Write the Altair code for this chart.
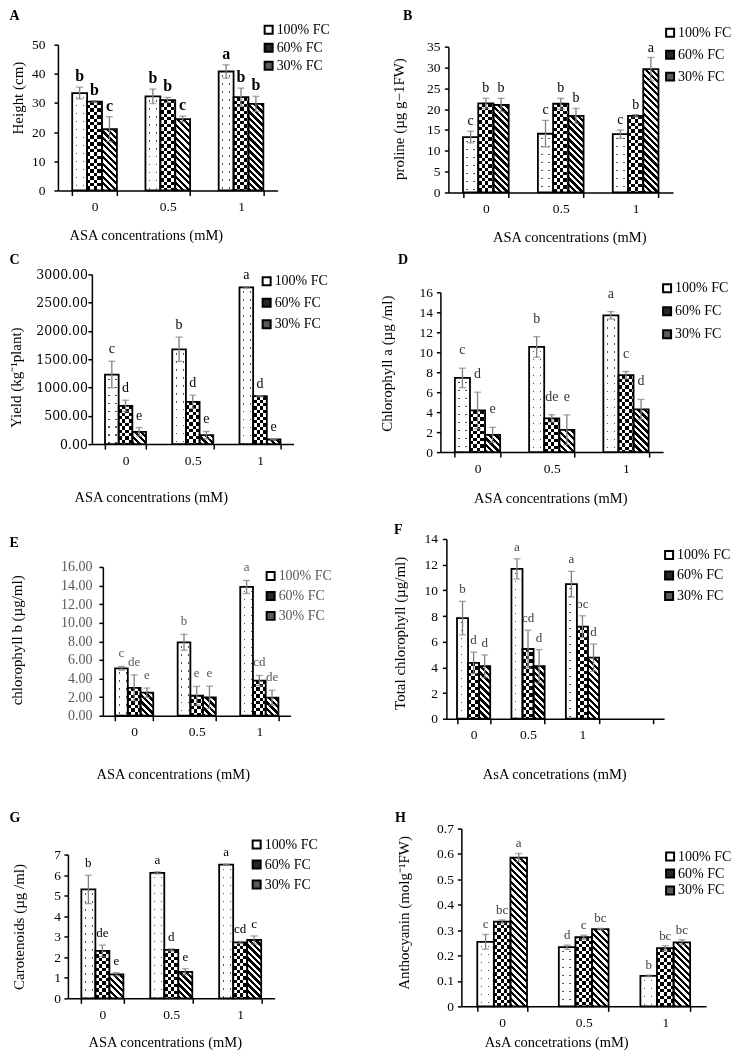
import math
import altair as alt

SERIES = ["100% FC", "60% FC", "30% FC"]
CONC = ["0", "0.5", "1"]

# values ordered by ASA concentration (0, 0.5, 1); inside each: 100%, 60%, 30% FC
height_mean = [33.4, 30.5, 21.0, 32.3, 31.0, 24.5, 40.8, 32.0, 29.7]
height_err = [2.0, 0.3, 4.3, 2.5, 0.9, 1.0, 2.3, 3.1, 2.6]
height_let = ["b", "b", "c", "b", "b", "c", "a", "b", "b"]

proline_mean = [13.3, 21.4, 21.0, 14.1, 21.3, 18.4, 14.0, 18.4, 29.6]
proline_err = [1.4, 1.2, 1.6, 3.2, 1.3, 1.8, 1.0, 0.3, 2.8]
proline_let = ["c", "b", "b", "c", "b", "b", "c", "b", "a"]

yield_mean = [1229, 676, 218, 1676, 747, 159, 2770, 847, 82]
yield_err = [235, 100, 75, 215, 118, 65, 12, 8, 6]
yield_let = ["c", "d", "e", "b", "d", "e", "a", "d", "e"]

chla_mean = [7.43, 4.17, 1.73, 10.53, 3.37, 2.23, 13.7, 7.7, 4.27]
chla_err = [0.97, 1.83, 0.75, 1.03, 0.37, 1.5, 0.37, 0.37, 1.0]
chla_let = ["c", "d", "e", "b", "de", "e", "a", "c", "d"]

chlb_mean = [5.1, 3.0, 2.48, 7.9, 2.15, 1.98, 13.85, 3.78, 1.94]
chlb_err = [0.2, 1.4, 0.5, 0.85, 1.0, 1.2, 0.7, 0.55, 0.8]
chlb_let = ["c", "de", "e", "b", "e", "e", "a", "cd", "de"]

total_mean = [7.84, 4.35, 4.09, 11.67, 5.43, 4.09, 10.48, 7.17, 4.76]
total_err = [1.3, 0.84, 0.88, 0.79, 1.46, 1.3, 1.0, 0.85, 1.06]
total_let = ["b", "d", "d", "a", "cd", "d", "a", "bc", "d"]

carot_mean = [5.3, 2.31, 1.17, 6.11, 2.36, 1.29, 6.51, 2.72, 2.84]
carot_err = [0.69, 0.28, 0.08, 0.05, 0.05, 0.15, 0.02, 0.05, 0.2]
carot_let = ["b", "de", "e", "a", "d", "e", "a", "cd", "c"]

antho_mean = [0.254, 0.334, 0.586, 0.233, 0.272, 0.304, 0.12, 0.229, 0.252]
antho_err = [0.029, 0.006, 0.016, 0.008, 0.008, 0.003, 0.003, 0.01, 0.01]
antho_let = ["c", "bc", "a", "d", "c", "bc", "b", "bc", "bc"]

X1 = "ASA concentrations (mM)"
X2 = "AsA concetrations (mM)"
SERIF = "Liberation Serif"

# grid cells (page coordinates): column lefts / row tops and sizes
COL_LEFT = [8, 371]
COL_W = [363, 420]
ROW_TOP = [8, 250, 525, 800]
ROW_H = [242, 275, 275, 250]
PAGE_RIGHT = 734  # right edge of the figure on the page

PANELS = [
    dict(letter="A", mean=height_mean, err=height_err, lets=height_let, left=57, top=44, w=220, h=146,
         ymax=50, ystep=10, fmt="d", ytitle="Height (cm)", xtitle=X1, yt=(17, 97), xt=(145, 235),
         leg=(265, 29, 17), ttl=(8, 8), ypad=9, lsize=16, lweight="bold", lcolor="black", gap=6,
         tcolor="black", tfont=SERIF, tsize=13.5),
    dict(letter="B", mean=proline_mean, err=proline_err, lets=proline_let, left=448, top=46, w=225, h=146,
         ymax=35, ystep=5, fmt="d", ytitle="proline (µg g−1FW)", xtitle=X1, yt=(398, 118), xt=(569, 237),
         leg=(667, 32, 21), ttl=(402, 8), ypad=4.5, lsize=14, lweight="normal", lcolor="black", gap=6,
         tcolor="black", tfont=SERIF, tsize=13.5),
    dict(letter="C", mean=yield_mean, err=yield_err, lets=yield_let, left=91, top=274, w=202, h=170,
         ymax=3000, ystep=500, fmt=".2f", ytitle="Yield (kg⁻¹plant)", xtitle=X1, yt=(15, 377), xt=(150, 497),
         leg=(263, 281, 20.5), ttl=(8, 252), ypad=0.5, lsize=14, lweight="normal", lcolor="black", gap=8,
         tcolor="black", tfont="DejaVu Serif", tsize=12.5),
    dict(letter="D", mean=chla_mean, err=chla_err, lets=chla_let, left=440, top=292, w=223, h=160,
         ymax=16, ystep=2, fmt="d", ytitle="Chlorophyll a (µg /ml)", xtitle=X1, yt=(386, 363), xt=(550, 498),
         leg=(664, 288, 22), ttl=(397, 252), ypad=4, lsize=14, lweight="normal", lcolor="#333333", gap=14,
         tcolor="black", tfont=SERIF, tsize=13.5),
    dict(letter="E", mean=chlb_mean, err=chlb_err, lets=chlb_let, left=102, top=567, w=188, h=149,
         ymax=16, ystep=2, fmt=".2f", ytitle="chlorophyll b (µg/ml)", xtitle=X1, yt=(16, 640), xt=(172, 775),
         leg=(267, 576, 19), ttl=(8, 536), ypad=7, lsize=13, lweight="normal", lcolor="#595959", gap=9,
         tcolor="#595959", tfont=SERIF, tsize=14),
    dict(letter="F", mean=total_mean, err=total_err, lets=total_let, left=446, top=539, w=218, h=180,
         ymax=14, ystep=2, fmt="d", ytitle="Total chlorophyll (µg/ml)", xtitle=X2, yt=(399, 633), xt=(554, 775),
         leg=(666, 555, 19.5), ttl=(393, 523), ypad=5, lsize=13, lweight="normal", lcolor="#404040", gap=8,
         tcolor="black", tfont=SERIF, tsize=13.5, extra=[" "]),
    dict(letter="G", mean=carot_mean, err=carot_err, lets=carot_let, left=67, top=855, w=207, h=144,
         ymax=7, ystep=1, fmt="d", ytitle="Carotenoids (µg /ml)", xtitle=X1, yt=(18, 927), xt=(164, 1043),
         leg=(253, 845, 19), ttl=(8, 811), ypad=3.5, lsize=13, lweight="normal", lcolor="black", gap=8,
         tcolor="black", tfont=SERIF, tsize=13.5),
    dict(letter="H", mean=antho_mean, err=antho_err, lets=antho_let, left=461, top=829, w=245, h=178,
         ymax=0.7, ystep=0.1, fmt=None, ytitle="Anthocyanin (molg⁻¹FW)", xtitle=X2, yt=(403, 913), xt=(556, 1043),
         leg=(667, 857, 16), ttl=(394, 811), ypad=4, lsize=13, lweight="normal", lcolor="#404040", gap=6,
         tcolor="black", tfont=SERIF, tsize=13.5),
]


def stripe_stops(L, period, on_len, c_on, c_off, phase=0.0):
    L = max(L, 0.5)
    x = phase - period * math.ceil(phase / period)
    segs = []
    while x < L:
        segs.append((x, x + on_len))
        x += period
    stops, cur = [], 0.0
    for a, b in segs:
        a2, b2 = max(a, 0.0), min(b, L)
        if b2 <= 0 or a2 >= L:
            continue
        if a2 > cur:
            stops += [(cur, c_off), (a2, c_off)]
        stops += [(a2, c_on), (b2, c_on)]
        cur = b2
    if cur < L:
        stops += [(cur, c_off), (L, c_off)]
    return [{"offset": round(o / L, 5), "color": c} for o, c in stops]


def grad_down(stops):
    return {"gradient": "linear", "x1": 0, "y1": 0, "x2": 0.000001, "y2": 1, "stops": stops}


def grad_across(stops):
    return {"gradient": "linear", "x1": 0, "y1": 0, "x2": 1, "y2": 0, "stops": stops}


def grad_diag(w, h, period):
    a = (w + h) / (w * w + h * h)
    stops = stripe_stops(w + h, period * math.sqrt(2), period * math.sqrt(2) * 0.5, "#000000", "#ffffff")
    return {"gradient": "linear", "x1": 0.000001, "y1": 1, "x2": a * w, "y2": 1 - a * h, "stops": stops}


def records(p, w_bar):
    recs = []
    for i, c in enumerate(CONC):
        for j, s in enumerate(SERIES):
            k = 3 * i + j
            v, e = p["mean"][k], p["err"][k]
            hpx = max(v / p["ymax"] * p["h"], 0.5)
            rec = {"conc": c, "series": s, "val": v, "lo": max(v - e, 0), "hi": v + e, "let": p["lets"][k]}
            if j == 0:
                rec["g1"] = grad_down(stripe_stops(hpx, 8, 1.3, "#555555", "#ffffff", phase=4))
                rec["g2"] = grad_across(stripe_stops(w_bar, 7, 1.3, "#000000", "#ffffff", phase=3.5))
            elif j == 1:
                rec["g1"] = grad_down(stripe_stops(hpx, 6.8, 3.4, "#000000", "#ffffff"))
                rec["g2"] = grad_across(stripe_stops(w_bar, 6.8, 3.4, "#ffffff", "#000000"))
            else:
                rec["g1"] = grad_diag(w_bar, hpx, 4.6)
                rec["g2"] = grad_diag(w_bar, hpx, 4.6)
            recs.append(rec)
    return recs


def make_panel(p, col, row):
    cats = CONC + p.get("extra", [])
    W, H = p["w"], p["h"]
    CW, CH = COL_W[col], ROW_H[row]
    cx, cy = COL_LEFT[col], ROW_TOP[row]
    dx, dy = p["left"] - cx, p["top"] - cy
    w_bar = (W / len(cats)) * 0.61 / 3
    data = alt.Data(values=records(p, w_bar))
    nt = int(round(p["ymax"] / p["ystep"]))
    ticks = [round(i * p["ystep"], 6) for i in range(nt + 1)]

    xscale = alt.Scale(domain=cats, range=[dx, dx + W], paddingInner=0.39, paddingOuter=0.195)
    xaxis = alt.Axis(orient="bottom", offset=-(CH - dy - H), title=p["xtitle"],
                     titleX=p["xt"][0] - cx, titleY=p["xt"][1] - (p["top"] + H), titleAlign="center",
                     titleBaseline="middle", titleFont=SERIF, titleFontSize=14.5, titleFontWeight="normal",
                     titleColor="black", labelAngle=0, labelFont=SERIF, labelFontSize=13.5, labelColor="black",
                     labelPadding=4, tickBand="extent", tickSize=5, tickColor="black", tickWidth=1.5,
                     domainColor="black", domainWidth=1.5, grid=False)
    letter_axis = alt.Axis(orient="top", offset=0, title=p["letter"], titleX=p["ttl"][0] - cx,
                           titleY=p["ttl"][1] - cy, titleAlign="left", titleBaseline="top", titleFont=SERIF,
                           titleFontSize=14, titleFontWeight="bold", titleColor="black", domain=False,
                           ticks=False, labels=False, grid=False)
    yscale = alt.Scale(domain=[0, p["ymax"]], range=[dy + H, dy], nice=False, zero=True)
    ykw = dict(orient="left", offset=-dx, title=p["ytitle"], values=ticks, titleX=p["yt"][0] - p["left"],
               titleY=p["yt"][1] - cy, titleAlign="center", titleBaseline="middle", titleFont=SERIF,
               titleFontSize=15, titleFontWeight="normal", titleColor="black", labelFont=p["tfont"],
               labelFontSize=p["tsize"], labelColor=p["tcolor"], labelPadding=p["ypad"], tickSize=4,
               tickColor="black", tickWidth=1.5, domainColor="black", domainWidth=1.5, grid=False)
    if p["fmt"]:
        ykw["format"] = p["fmt"]
    else:
        ykw["labelExpr"] = "datum.value == 0 ? '0' : format(datum.value, '.1f')"
    yaxis = alt.Axis(**ykw)

    x_main = alt.X("conc:N", scale=xscale, axis=xaxis)
    x_letter = alt.X("conc:N", scale=xscale, axis=letter_axis)
    x_plain = alt.X("conc:N", scale=xscale, axis=None)
    xo = alt.XOffset("series:N", scale=alt.Scale(domain=SERIES, paddingInner=0, paddingOuter=0))
    y_main = alt.Y("val:Q", scale=yscale, axis=yaxis)
    y_plain = alt.Y("val:Q", scale=yscale, axis=None)

    lx, lyc, lsp = p["leg"]
    legend = alt.Legend(orient="none", legendX=lx - 4 - cx, legendY=lyc - 7 - cy, title=None,
                        symbolType="square", symbolSize=64, symbolStrokeColor="black", symbolStrokeWidth=2,
                        labelFont=SERIF, labelFontSize=14, labelColor=p["tcolor"], labelOffset=1,
                        rowPadding=lsp - 15, padding=0)
    color = alt.Color("series:N", scale=alt.Scale(domain=SERIES, range=["#ffffff", "#262626", "#5a5a5a"]),
                      legend=legend)

    base = alt.Chart().mark_bar().encode(x=x_main, xOffset=xo, y=y_main, color=color)
    ov1 = alt.Chart().mark_bar().encode(x=x_plain, xOffset=xo, y=y_plain,
                                        fill=alt.Fill("g1:N", scale=None, legend=None))
    ov2a = alt.Chart().transform_filter(alt.datum.series == SERIES[0]).mark_bar(blend="lighten").encode(
        x=x_plain, xOffset=xo, y=y_plain, fill=alt.Fill("g2:N", scale=None, legend=None))
    ov2b = alt.Chart().transform_filter(alt.datum.series == SERIES[1]).mark_bar(blend="difference").encode(
        x=x_plain, xOffset=xo, y=y_plain, fill=alt.Fill("g2:N", scale=None, legend=None))
    outline = alt.Chart().mark_bar(fillOpacity=0, stroke="black", strokeWidth=1.8).encode(
        x=x_letter, xOffset=xo, y=y_plain)
    rule = alt.Chart().mark_rule(color="#7f7f7f", strokeWidth=1.3).encode(
        x=x_plain, xOffset=xo, y=alt.Y("lo:Q", scale=yscale, axis=None), y2="hi:Q")
    cap_hi = alt.Chart().mark_tick(orient="horizontal", size=7, thickness=1.3, color="#7f7f7f").encode(
        x=x_plain, xOffset=xo, y=alt.Y("hi:Q", scale=yscale, axis=None))
    cap_lo = alt.Chart().mark_tick(orient="horizontal", size=7, thickness=1.3, color="#7f7f7f").encode(
        x=x_plain, xOffset=xo, y=alt.Y("lo:Q", scale=yscale, axis=None))
    text = alt.Chart().mark_text(baseline="alphabetic", dy=-p["gap"], font=SERIF, fontSize=p["lsize"],
                                 fontWeight=p["lweight"], color=p["lcolor"]).encode(
        x=x_plain, xOffset=xo, y=alt.Y("hi:Q", scale=yscale, axis=None), text="let:N")

    return alt.layer(base, ov1, ov2a, ov2b, outline, rule, cap_hi, cap_lo, text, data=data).resolve_axis(
        x="independent", y="independent").properties(width=CW, height=CH)


cells = [make_panel(p, i % 2, i // 2) for i, p in enumerate(PANELS)]

# the right column cell reaches past the page; the picture ends at the page edge
grid_right = (COL_LEFT[1] - COL_LEFT[0]) + COL_W[1]
pad = {"top": 0, "left": 0, "bottom": 0, "right": (PAGE_RIGHT - COL_LEFT[0]) - grid_right}

chart = alt.concat(*cells, columns=2, spacing=0, bounds="flush", align="each").resolve_scale(
    x="independent", y="independent", color="independent", xOffset="independent"
).resolve_legend(color="independent").properties(padding=pad, background="white").configure_view(stroke=None)

chart.save("out.html", embed_options={"renderer": "svg", "actions": False})
